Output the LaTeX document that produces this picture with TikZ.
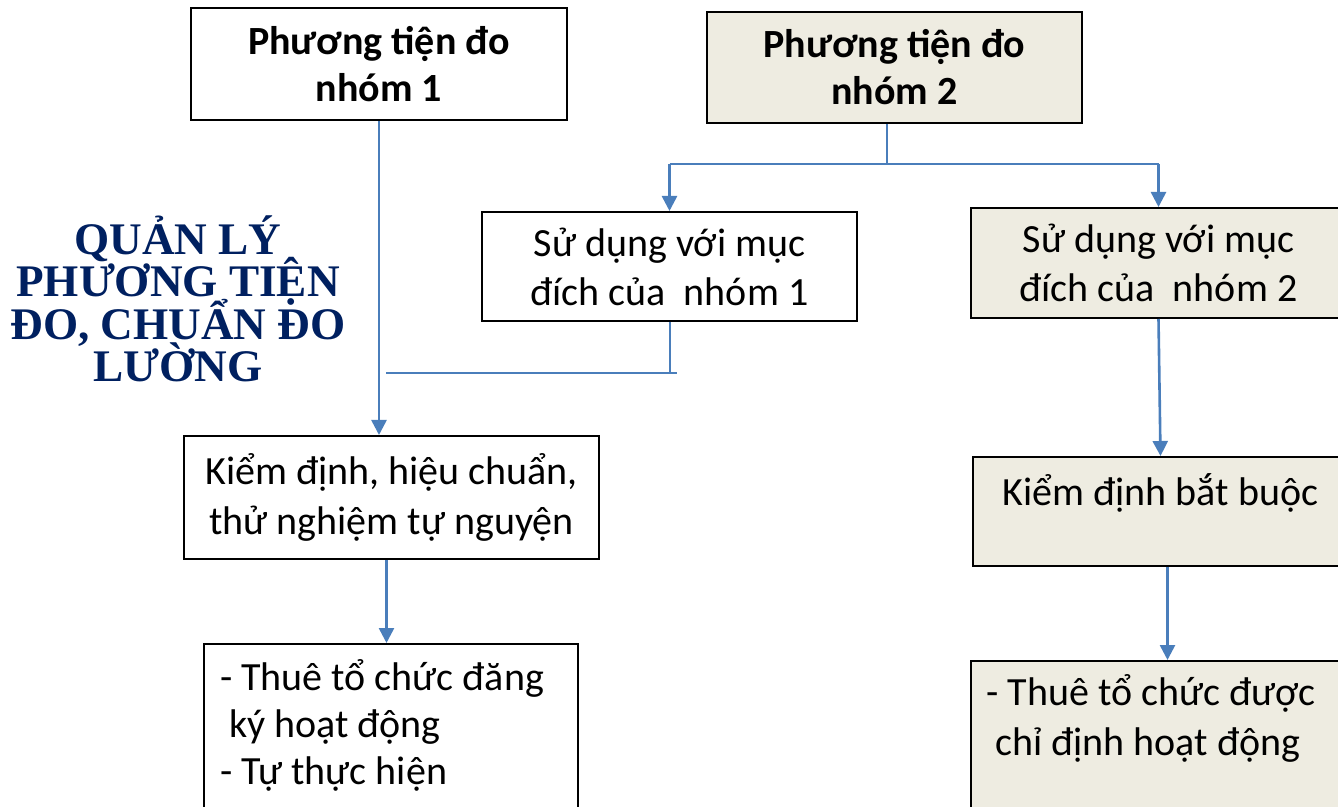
\documentclass[tikz,border=0pt]{standalone}
\usepackage{fontspec}
\setmainfont{Carlito}
\newfontfamily\titlefont{Liberation Serif}
\usetikzlibrary{arrows.meta}
\definecolor{tanfill}{HTML}{EEECE1}
\definecolor{linkblue}{HTML}{4A7EBB}
\definecolor{navy}{HTML}{002060}
\newcommand\titlesize{\titlefont\bfseries\fontsize{22.6}{21.2}\selectfont\lineskiplimit-20pt\relax}

\begin{document}
\begin{tikzpicture}[x=0.5pt,y=-0.5pt,
    box/.style={draw, line width=1pt, align=center, inner sep=0pt, minimum width=187.5pt, font=\fontsize{20}{24.5}\selectfont},
    head/.style={box, font=\fontsize{20}{23.5}\selectfont\bfseries},
    tan/.style={fill=tanfill},
    link/.style={draw=linkblue, line width=1pt},
    flow/.style={draw=linkblue, line width=1.3pt, -{Triangle[length=7.5pt,width=7.5pt]}}]
  \clip (0,0) rectangle (1338,807);

  \node[font=\titlesize, text=navy, align=center] (title) at (178,299) {QUẢN LÝ\\PHƯƠNG TIỆN\\ĐO, CHUẨN ĐO\\LƯỜNG};

  \node[head, minimum width=188pt, minimum height=56pt] (g1) at (379,64) {Phương tiện đo\\nhóm 1};
  \node[head, tan, minimum height=55.5pt] (g2) at (894.5,67.5) {Phương tiện đo\\nhóm 2};
  \node[box, minimum height=54.5pt] (use1) at (669.5,266.5) {Sử dụng với mục\\đích của\ \ nhóm 1};
  \node[box, tan, minimum height=55pt] (use2) at (1158.5,263) {Sử dụng với mục\\đích của\ \ nhóm 2};
  \node[box, minimum width=207.5pt, minimum height=61.5pt, font=\fontsize{20}{25}\selectfont] (k1) at (391.5,497.5) {Kiểm định, hiệu chuẩn,\\thử nghiệm tự nguyện};
  \node[box, tan, minimum height=54.5pt] (k2) at (1160.5,511.5) {\raisebox{9.5pt}[\height][\depth]{Kiểm định bắt buộc}};
  \node[box, anchor=north, align=flush left, text width=171pt, inner xsep=8pt, inner ysep=8pt, minimum width=0pt, font=\fontsize{20}{23.3}\selectfont] (t1) at (391,643) {- Thuê tổ chức đăng\\ \hspace*{4.5pt}ký hoạt động\\- Tự thực hiện\\ \mbox{}};
  \node[box, tan, anchor=north, align=flush left, text width=171pt, inner xsep=8pt, inner ysep=7pt, minimum width=0pt, font=\fontsize{20}{25}\selectfont] (t2) at (1157.5,660) {- Thuê tổ chức được\\ \hspace*{4.5pt}chỉ định hoạt động\\ \mbox{}};

  \coordinate (fork) at (887,164);
  \coordinate (join) at (386,373);
  \draw[link] (fork |- g2.south) -- (fork);
  \draw[link] (use1.north |- fork) -- (use2.north |- fork);
  \draw[flow] (use1.north |- fork) -- (use1.north);
  \draw[flow] (use2.north |- fork) -- (use2.north);
  \draw[link] (use1.south) -- (use1.south |- join);
  \draw[link] (join) -- ([xshift=3.5pt]use1.south |- join);
  \draw[flow] (g1.south) -- (g1.south |- k1.north);
  \draw[flow] ([xshift=-2.5pt]k1.south) -- ([xshift=-2.5pt]k1.south |- t1.north);
  \draw[flow] (use2.south) -- (k2.north);
  \draw[flow] ([xshift=3.5pt]k2.south) -- ([xshift=3.5pt]k2.south |- t2.north);
\end{tikzpicture}
\end{document}
